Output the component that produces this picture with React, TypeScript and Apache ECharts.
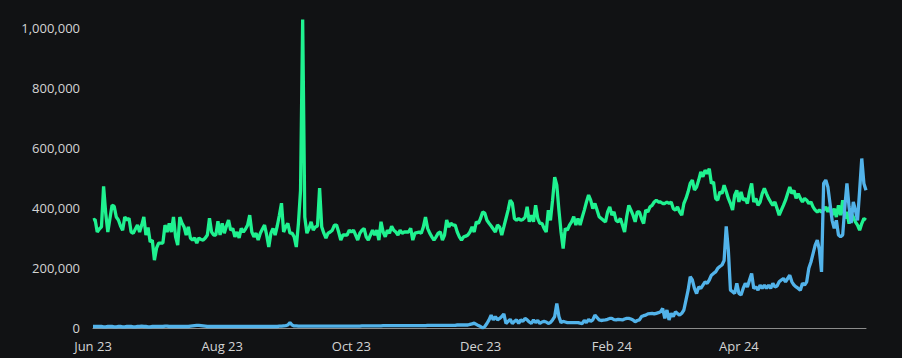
import React, { useEffect, useRef } from "react";
import * as echarts from "echarts";

// Months covered (one array of daily values per month, values in thousands)
const monthKeys = [
  "2023-06", "2023-07", "2023-08", "2023-09", "2023-10", "2023-11",
  "2023-12", "2024-01", "2024-02", "2024-03", "2024-04", "2024-05",
];
const monthNames = ["Jan", "Feb", "Mar", "Apr", "May", "Jun", "Jul", "Aug", "Sep", "Oct", "Nov", "Dec"];
const labelMonths = ["06", "08", "10", "12", "02", "04"];
const yTicks = [0, 200000, 400000, 600000, 800000, 1000000];

// Green series (thousands)
const greenJun23 = [360, 362, 320, 330, 337, 472, 383, 320, 365, 409, 406, 370, 360, 340, 326, 370, 360, 366, 320, 316, 330, 343, 320, 343, 370, 310, 335, 287, 293, 226];
const greenJul23 = [266, 283, 283, 283, 343, 320, 349, 320, 370, 304, 276, 370, 350, 337, 310, 337, 300, 293, 300, 283, 300, 295, 293, 300, 310, 366, 320, 310, 310, 356, 310];
const greenAug23 = [349, 316, 340, 360, 326, 332, 304, 320, 300, 332, 320, 330, 343, 376, 320, 304, 316, 293, 316, 330, 343, 310, 270, 316, 332, 310, 340, 376, 416, 320, 337];
const greenSep23 = [349, 316, 316, 304, 270, 349, 459, 1028, 370, 316, 332, 354, 326, 337, 340, 466, 337, 316, 300, 316, 320, 326, 343, 343, 320, 293, 310, 310, 310, 326];
const greenOct23 = [320, 326, 310, 293, 316, 326, 332, 304, 293, 310, 326, 310, 326, 293, 354, 320, 304, 326, 316, 339, 326, 320, 310, 326, 316, 320, 320, 320, 332, 293, 316];
const greenNov23 = [318, 320, 316, 337, 370, 332, 316, 304, 293, 304, 316, 320, 293, 310, 360, 337, 349, 343, 343, 320, 304, 293, 304, 306, 310, 320, 337, 320, 354, 349];
const greenDec23 = [365, 387, 383, 359, 349, 340, 330, 320, 343, 337, 310, 337, 365, 393, 426, 416, 365, 359, 365, 359, 362, 369, 404, 354, 376, 354, 409, 365, 349, 349, 332];
const greenJan24 = [320, 393, 359, 426, 503, 476, 393, 320, 265, 332, 326, 343, 354, 371, 343, 365, 343, 369, 393, 420, 443, 426, 398, 415, 393, 371, 365, 359, 354, 387, 404];
const greenFeb24 = [376, 387, 359, 354, 365, 343, 320, 371, 409, 393, 376, 354, 387, 387, 365, 348, 393, 387, 404, 409, 420, 426, 420, 420, 415, 415, 420, 415, 420];
const greenMar24 = [398, 393, 404, 387, 376, 415, 432, 454, 482, 493, 460, 470, 493, 520, 504, 526, 515, 531, 482, 487, 432, 426, 454, 448, 476, 455, 432, 415, 393, 443, 459];
const greenApr24 = [420, 454, 426, 432, 415, 454, 482, 420, 432, 409, 420, 448, 465, 448, 432, 420, 409, 420, 398, 376, 393, 409, 426, 448, 470, 448, 459, 432, 448, 432];
const greenMay24 = [420, 432, 426, 415, 420, 404, 393, 387, 393, 387, 393, 404, 387, 404, 376, 398, 370, 409, 376, 426, 365, 387, 348, 381, 370, 354, 343, 326, 348, 365, 360];

// Blue series (thousands)
const blueJun23 = [5, 5, 5, 5, 5, 4, 4, 5, 5, 5, 4, 4, 5, 5, 4, 4, 5, 5, 5, 4, 4, 5, 5, 6, 5, 5, 4, 4, 5, 5];
const blueJul23 = [5, 5, 5, 5, 6, 6, 5, 5, 5, 5, 5, 5, 5, 5, 5, 5, 6, 7, 8, 9, 9, 8, 7, 6, 5, 5, 5, 5, 5, 5, 5];
const blueAug23 = [5, 5, 5, 5, 5, 5, 5, 5, 5, 5, 5, 5, 5, 5, 5, 5, 5, 5, 5, 5, 5, 5, 5, 5, 5, 5, 5, 6, 6, 7, 8];
const blueSep23 = [10, 18, 10, 7, 7, 6, 6, 6, 6, 6, 6, 6, 6, 6, 6, 6, 6, 6, 6, 6, 6, 6, 6, 6, 6, 6, 6, 6, 6, 6];
const blueOct23 = [6, 6, 6, 6, 6, 7, 7, 7, 7, 7, 7, 7, 7, 7, 7, 8, 8, 8, 8, 8, 8, 8, 8, 8, 8, 8, 8, 8, 8, 8, 8];
const blueNov23 = [8, 8, 8, 8, 8, 9, 9, 9, 9, 9, 9, 9, 9, 9, 9, 9, 9, 9, 9, 10, 10, 10, 10, 10, 10, 12, 14, 16, 12, 8];
const blueDec23 = [5, 0, 5, 15, 27, 43, 27, 38, 27, 32, 38, 47, 15, 22, 29, 15, 22, 27, 15, 27, 22, 32, 27, 20, 15, 27, 18, 25, 15, 20, 22];
const blueJan24 = [20, 15, 18, 27, 38, 82, 38, 18, 22, 20, 18, 18, 18, 18, 18, 18, 16, 15, 25, 18, 29, 22, 27, 43, 35, 27, 25, 26, 27, 29, 32];
const blueFeb24 = [32, 28, 27, 29, 28, 27, 30, 32, 32, 30, 27, 21, 25, 27, 38, 41, 43, 47, 48, 49, 47, 49, 51, 54, 65, 32, 60, 27, 49];
const blueMar24 = [38, 54, 48, 43, 49, 60, 93, 126, 171, 160, 132, 115, 137, 132, 143, 154, 149, 160, 176, 182, 187, 199, 205, 210, 225, 339, 260, 126, 121, 115, 149];
const blueApr24 = [115, 110, 132, 149, 137, 160, 182, 132, 137, 126, 143, 132, 143, 132, 143, 132, 149, 137, 140, 154, 160, 165, 154, 165, 176, 154, 143, 137, 132, 126];
const blueMay24 = [149, 143, 154, 199, 220, 248, 276, 293, 260, 187, 482, 493, 470, 415, 359, 332, 359, 310, 304, 310, 404, 482, 404, 350, 420, 393, 359, 459, 565, 482, 459];

const greenByMonth = [greenJun23, greenJul23, greenAug23, greenSep23, greenOct23, greenNov23, greenDec23, greenJan24, greenFeb24, greenMar24, greenApr24, greenMay24];
const blueByMonth = [blueJun23, blueJul23, blueAug23, blueSep23, blueOct23, blueNov23, blueDec23, blueJan24, blueFeb24, blueMar24, blueApr24, blueMay24];

const dates: string[] = [];
monthKeys.forEach((m, mi) => {
  greenByMonth[mi].forEach((_, d) => dates.push(`${m}-${String(d + 1).padStart(2, "0")}`));
});
const green = greenByMonth.flat().map((v) => v * 1000);
const blue = blueByMonth.flat().map((v) => v * 1000);

export default function App() {
  const ref = useRef<HTMLDivElement>(null);

  useEffect(() => {
    document.body.style.margin = "0";
    document.body.style.background = "#111214";
    if (!ref.current) return;
    const chart = echarts.init(ref.current, undefined, { renderer: "svg" });
    const font = "'Open Sans', 'Noto Sans', sans-serif";
    chart.setOption({
      animation: false,
      backgroundColor: "#111214",
      grid: { left: 93, right: 36, top: 13, bottom: 30 },
      xAxis: {
        type: "category",
        data: dates,
        boundaryGap: false,
        axisLine: { show: true, lineStyle: { color: "#8c8c8c", width: 1 } },
        axisTick: { show: false },
        splitLine: { show: false },
        axisLabel: {
          color: "#d4d4d4",
          fontSize: 13,
          fontFamily: font,
          margin: 11,
          interval: (_i: number, v: string) => v.endsWith("-01") && labelMonths.includes(v.slice(5, 7)),
          formatter: (v: string) => `${monthNames[Number(v.slice(5, 7)) - 1]} ${v.slice(2, 4)}`,
        },
      },
      yAxis: {
        type: "value",
        min: yTicks[0],
        max: 1050000,
        interval: yTicks[1] - yTicks[0],
        axisLine: { show: false },
        axisTick: { show: false },
        splitLine: { show: false },
        axisLabel: {
          color: "#d4d4d4",
          fontSize: 13,
          fontFamily: font,
          margin: 13,
          showMaxLabel: false,
          formatter: (v: number) => (yTicks.includes(v) ? v.toLocaleString("en-US") : ""),
        },
      },
      series: [
        {
          type: "line",
          data: green,
          showSymbol: false,
          symbol: "none",
          lineStyle: { color: "#1ff290", width: 3.3 },
          itemStyle: { color: "#1ff290" },
          z: 2,
        },
        {
          type: "line",
          data: blue,
          showSymbol: false,
          symbol: "none",
          lineStyle: { color: "#52b3ea", width: 3.3 },
          itemStyle: { color: "#52b3ea" },
          z: 3,
        },
      ],
    });
    return () => chart.dispose();
  }, []);

  return (
    <div
      ref={ref}
      style={{ position: "absolute", left: 0, top: 0, width: 902, height: 358, background: "#111214" }}
    />
  );
}
